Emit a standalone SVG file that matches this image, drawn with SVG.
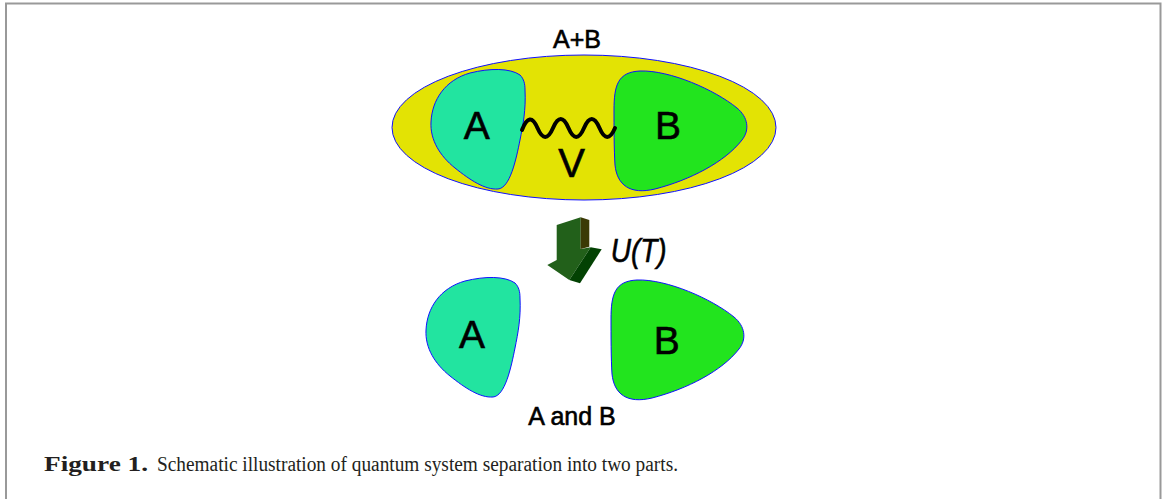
<svg xmlns="http://www.w3.org/2000/svg" width="1165" height="499" viewBox="0 0 1165 499">
<style>
.lbl{font-family:"Liberation Sans",Arial,sans-serif;fill:#000;stroke:#000;stroke-width:0.6}
.shp{stroke:#1010ff;stroke-width:1}
.a{fill:#22e4a0}
.b{fill:#22e41e}
.cap{font-family:"Liberation Serif","Times New Roman",serif;font-size:20px;fill:#231f20}
</style>
<defs>
<path id="shapeA" d="M525,90 C526,110 523,125 520,140 C516,160 510,188 498,189 C485,190 470,180 455,168 C440,156 430,140 431,122 C432,100 445,80 470,73 C490,68 510,68 520,75 C524,79 525,84 525,90 Z"/>
<path id="shapeB" d="M614,110 C614,85 618,72 640,71 C670,70 715,90 737,108 C748,117 750,130 742,140 C725,162 690,180 655,189 C630,195 617,185 615,165 C614,150 614,125 614,110 Z"/>
</defs>
<rect width="1165" height="499" fill="#fff"/>
<path d="M6,499 V3.5 H1160.5 V499" fill="none" stroke="#999" stroke-width="2"/>
<g id="nodeAB">
<ellipse cx="584" cy="127.5" rx="192" ry="72.5" fill="#e3e304" class="shp"/>
<text class="lbl" x="577" y="47.5" font-size="25" text-anchor="middle">A+B</text>
</g>
<g id="nodeA_top">
<use href="#shapeA" class="shp a"/>
<text class="lbl" x="476.7" y="138.5" font-size="39" text-anchor="middle">A</text>
</g>
<g id="nodeB_top">
<use href="#shapeB" class="shp b"/>
<text class="lbl" x="668" y="138.5" font-size="39" text-anchor="middle">B</text>
</g>
<g id="connectors">
<path d="M522,130 Q529.75,110 537.5,128 T553,128 T568.5,128 T584,128 T599.5,128 T615,128" fill="none" stroke="#000" stroke-width="4" stroke-linecap="round"/>
<text class="lbl" x="571.7" y="177" font-size="40" text-anchor="middle">V</text>
</g>
<g id="arrowU">
<polygon points="556.7,225 580.7,217.3 580.7,249 590.7,247.3 569.3,280 547.3,265 556.7,260" fill="#22601a"/>
<polygon points="580.7,217.3 589.3,220 589.3,246.7 580.7,249" fill="#3b3a05"/>
<polygon points="590.7,247.3 601.7,249.3 580,283.3 569.3,280" fill="#034203"/>
<text class="lbl" x="610.7" y="261.7" font-size="33" font-style="italic" stroke-width="0.3" textLength="56" lengthAdjust="spacingAndGlyphs">U(T)</text>
</g>
<g id="nodeA_bottom">
<use href="#shapeA" class="shp a" transform="translate(-5,208)"/>
<text class="lbl" x="472" y="347.5" font-size="39" text-anchor="middle">A</text>
</g>
<g id="nodeB_bottom">
<use href="#shapeB" class="shp b" transform="translate(-3,209)"/>
<text class="lbl" x="666.7" y="353.5" font-size="39" text-anchor="middle">B</text>
</g>
<text class="lbl" x="572" y="425" font-size="25" text-anchor="middle">A and B</text>
<text class="cap" x="44" y="471" font-weight="bold" font-size="21" textLength="104" lengthAdjust="spacingAndGlyphs">Figure 1.</text>
<text class="cap" x="157" y="471" textLength="521" lengthAdjust="spacingAndGlyphs">Schematic illustration of quantum system separation into two parts.</text>
</svg>
